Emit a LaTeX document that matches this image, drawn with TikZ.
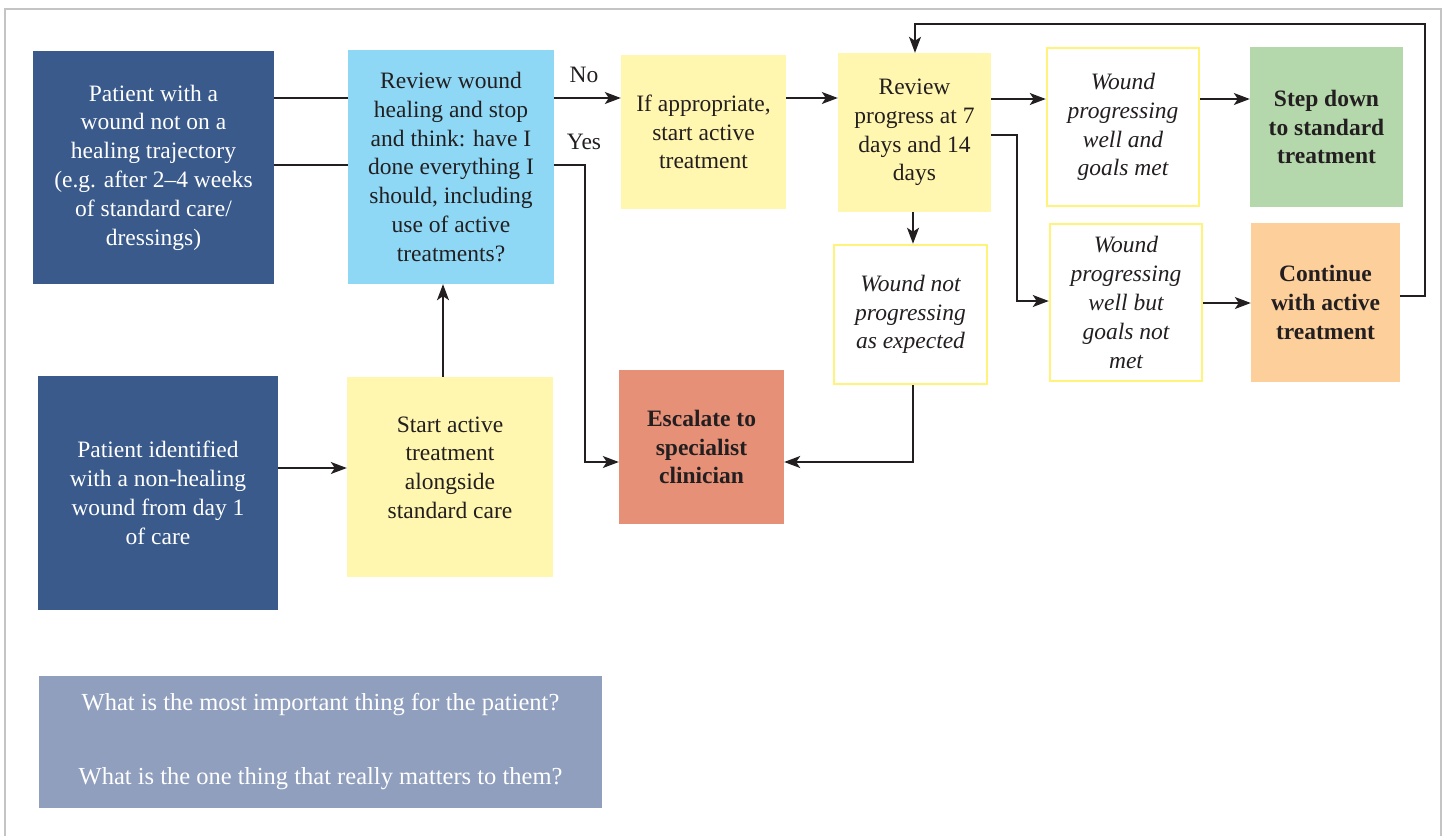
\documentclass[tikz,border=0pt]{standalone}
\usepackage{fontspec}
\setmainfont{Liberation Serif}
\usetikzlibrary{arrows.meta,calc}
\definecolor{dkblue}{HTML}{395A8B}
\definecolor{ltblue}{HTML}{8ED8F6}
\definecolor{paleyel}{HTML}{FFF6AF}
\definecolor{yelborder}{HTML}{FFF37A}
\definecolor{stepgreen}{HTML}{B4D7AB}
\definecolor{contorange}{HTML}{FDCF9B}
\definecolor{escsalmon}{HTML}{E59077}
\definecolor{qbox}{HTML}{909FBE}
\definecolor{ink}{HTML}{231F20}
\definecolor{framegray}{HTML}{C4C4C4}
\tikzset{
  box/.style={inner sep=0pt, align=center, text=ink,
    font=\fontsize{23.5}{28.8}\selectfont},
  darkbox/.style={box, fill=dkblue, text=white},
  bluebox/.style={box, fill=ltblue},
  yelbox/.style={box, fill=paleyel},
  outlinebox/.style={box, fill=white, draw=yelborder, line width=2.5pt,
    font=\fontsize{23.5}{28.8}\selectfont\itshape},
  boldbox/.style={box, font=\fontsize{23.5}{28.8}\selectfont\bfseries},
  conn/.style={draw=ink, line width=1.4pt},
  arr/.style={conn, -{Stealth[length=16pt,width=12pt,inset=4pt]}},
  lbl/.style={text=ink, font=\fontsize{23.5}{26}\selectfont, inner sep=0pt}
}
\begin{document}
\begin{tikzpicture}[x=1pt,y=-1pt]
\useasboundingbox (0,0) rectangle (1448,836);
% outer frame
\draw[framegray, line width=1.5pt] (5,836) -- (5,9) -- (1441,9) -- (1441,836);

% nodes
\node[darkbox, minimum width=241pt, minimum height=233pt] (A) at (153.5,167.5)
  {Patient with a\\wound not on a\\healing trajectory\\(e.g. after 2--4 weeks\\of standard care/\\dressings)};
\node[bluebox, minimum width=206pt, minimum height=234pt] (B) at (451,167)
  {Review wound\\healing and stop\\and think: have I\\done everything I\\should, including\\use of active\\treatments?};
\node[yelbox, minimum width=165pt, minimum height=154pt] (C) at (703.5,132)
  {If appropriate,\\start active\\treatment};
\node[yelbox, minimum width=153pt, minimum height=159pt] (D) at (914.5,132.5)
  {Review\\progress at 7\\days and 14\\days};
\node[outlinebox, minimum width=152pt, minimum height=158pt] (E) at (1123,127)
  {Wound\\progressing\\well and\\goals met};
\node[boldbox, fill=stepgreen, minimum width=153pt, minimum height=160pt] (F) at (1326.5,127)
  {Step down\\to standard\\treatment};
\node[outlinebox, minimum width=152pt, minimum height=157pt] (G) at (1126,302.5)
  {Wound\\progressing\\well but\\goals not\\met};
\node[boldbox, fill=contorange, minimum width=149pt, minimum height=159pt] (H) at (1325.5,302.5)
  {Continue\\with active\\treatment};
\node[outlinebox, minimum width=153pt, minimum height=139pt] (I) at (910.5,314.5)
  {Wound not\\progressing\\as expected};
\node[boldbox, fill=escsalmon, minimum width=165pt, minimum height=154pt] (J) at (701.5,447)
  {Escalate to\\specialist\\clinician};
\node[darkbox, minimum width=240pt, minimum height=234pt] (K) at (158,493)
  {Patient identified\\with a non-healing\\wound from day 1\\of care};
\node[yelbox, minimum width=206pt, minimum height=200pt] (L) at (450,477)
  {Start active\\treatment\\alongside\\standard care\\[-10pt]\mbox{}};
\node[box, fill=qbox, text=white, minimum width=563pt, minimum height=132pt,
  font=\fontsize{24.5}{74}\selectfont] (M) at (320.5,742)
  {What is the most important thing for the patient?\\What is the one thing that really matters to them?};

% connectors
\draw[conn] (A.east |- 0,98) -- (B.west |- 0,98);
\draw[conn] (A.east |- 0,165) -- (B.west |- 0,165);
\draw[arr] (B.east |- 0,98) -- (C.west |- 0,98);
\node[lbl] (no) at (584,75) {No};
\draw[arr] (B.east |- 0,165) -- (585,165) |- (J.west |- 0,462);
\node[lbl] (yes) at (584,142) {Yes};
\draw[arr] (C.east |- 0,98) -- (D.west |- 0,98);
\draw[arr] (D.east |- 0,99) -- (E.west |- 0,99);
\draw[arr] (D.east |- 0,135) -- (1017,135) |- (G.west |- 0,301);
\draw[arr] (E.east |- 0,99) -- (F.west |- 0,99);
\draw[arr] (G.east |- 0,303) -- (H.west |- 0,303);
\draw[arr] (H.east |- 0,296) -- (1425,296) |- (915,24) -- (D.north -| 915,0);
\draw[arr] (D.south -| 913,0) -- (I.north -| 913,0);
\draw[arr] (I.south -| 913,0) |- (J.east |- 0,462);
\draw[arr] (K.east |- 0,468) -- (L.west |- 0,468);
\draw[arr] (L.north -| 443,0) -- (B.south -| 443,0);
\end{tikzpicture}
\end{document}
